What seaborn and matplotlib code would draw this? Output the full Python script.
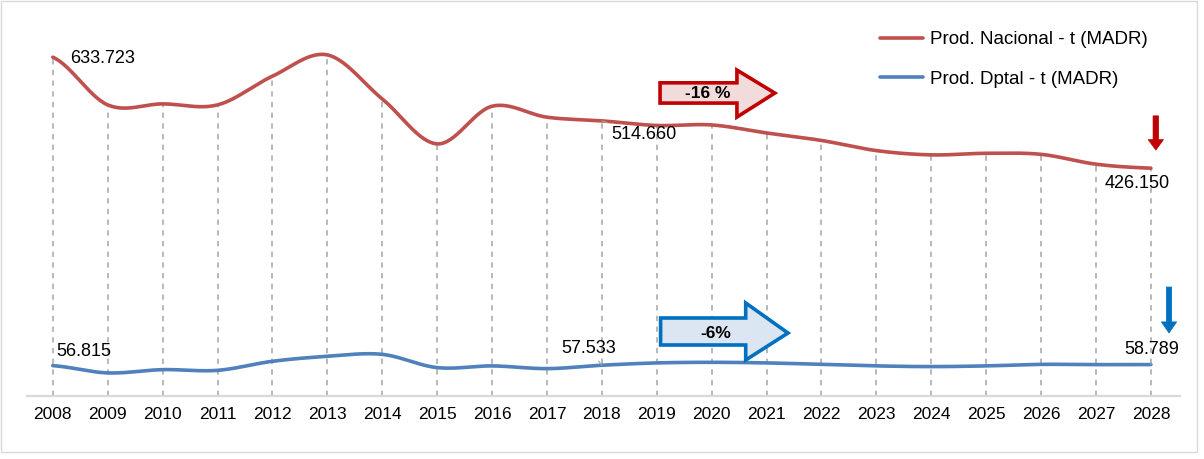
import numpy as np
import pandas as pd
import matplotlib
matplotlib.use("Agg")
import matplotlib.pyplot as plt
import seaborn as sns
from matplotlib.patches import Polygon, Rectangle

# ---------------- data ----------------
years = [str(y) for y in range(2008, 2029)]
prod_nacional = [633.723, 544.5, 546.4, 544.5, 598.2, 638.0, 555.7, 471.6, 542.0, 521.5,
                 514.660, 506.0, 507.0, 492.0, 478.0, 459.0, 451.0, 454.0, 452.0, 433.6, 426.150]
prod_dptal = [56.815, 43.2, 49.3, 48.0, 64.9, 74.2, 77.9, 53.1, 56.3, 51.2,
              57.533, 61.9, 63.0, 61.9, 59.2, 56.3, 55.0, 56.3, 59.2, 58.7, 58.789]
series_names = ["Prod. Nacional - t (MADR)", "Prod. Dptal - t (MADR)"]
label_years_idx = [0, 10, 20]
pct_texts = ["-16 %", "-6%"]

RED = "#C0504D"
BLUE = "#4F81BD"

sns.set_theme(style="white")
plt.rcParams["font.family"] = ["Liberation Sans", "DejaVu Sans"]

W, H = 1204, 459
fig = plt.figure(figsize=(W / 100, H / 100), dpi=100)
ax = fig.add_axes([27 / W, 1 - 396 / H, (1180 - 27) / W, (396 - 10) / H])

idx = np.arange(len(years))


def smooth(y, n=30):
    """Catmull-Rom (Excel-like) smoothing of the drawn line."""
    y = np.asarray(y, float)
    p = np.concatenate([[y[0]], y, [y[-1]]])
    xs, ys = [], []
    for i in range(len(y) - 1):
        p0, p1, p2, p3 = p[i], p[i + 1], p[i + 2], p[i + 3]
        t = np.linspace(0, 1, n, endpoint=False)
        v = 0.5 * ((2 * p1) + (-p0 + p2) * t + (2 * p0 - 5 * p1 + 4 * p2 - p3) * t ** 2
                   + (-p0 + 3 * p1 - 3 * p2 + p3) * t ** 3)
        xs.append(i + t)
        ys.append(v)
    xs.append([len(y) - 1])
    ys.append([y[-1]])
    return np.concatenate(xs), np.concatenate(ys)


# drop lines
ax.vlines(idx, 0, prod_nacional, colors="#A6A6A6", linestyles=(0, (3.5, 3.5)), lw=1.1, zorder=1)

frames = []
for name, vals in zip(series_names, [prod_nacional, prod_dptal]):
    sx, sy = smooth(vals)
    frames.append(pd.DataFrame({"x": sx, "y": sy, "serie": name}))
df = pd.concat(frames, ignore_index=True)
sns.lineplot(data=df, x="x", y="y", hue="serie", palette=[RED, BLUE], lw=2.6,
             sort=False, estimator=None, ax=ax, zorder=3)

ax.set_xlim(-0.47, 20.53)
ax.set_ylim(0, 722)
ax.set_xticks(idx)
ax.set_xticklabels(years, fontsize=12.5, color="#000000")
ax.tick_params(axis="x", length=0, pad=8)
ax.set_yticks([])
ax.set_xlabel("")
ax.set_ylabel("")
for s in ["top", "left", "right"]:
    ax.spines[s].set_visible(False)
ax.spines["bottom"].set_color("#D9D9D9")
ax.spines["bottom"].set_linewidth(1.6)

# data labels (offsets in pixels)
red_offsets = {0: (17, -1), 10: (9, -14), 20: (-46, -15)}
blue_offsets = {0: (4, 14), 10: (-41, 17), 20: (-27, 15)}
for vals, offs, leaders in [(prod_nacional, red_offsets, {10}), (prod_dptal, blue_offsets, {10, 20})]:
    for i in label_years_idx:
        dx, dy = offs[i]
        kw = {}
        if i in leaders:
            kw["arrowprops"] = dict(arrowstyle="-", color="#A6A6A6", lw=0.8, shrinkA=1, shrinkB=0)
        ax.annotate(f"{vals[i]:.3f}", xy=(i, vals[i]), xytext=(dx, dy), textcoords="offset pixels",
                    ha="left", va="center", fontsize=13, color="#000000", zorder=5, **kw)

# big percentage arrows
def big_arrow(x0, xb, xt, yb0, yb1, yh0, yh1, yc, fc, ec, txt, tx):
    poly = Polygon([(x0, yb0), (xb, yb0), (xb, yh0), (xt, yc), (xb, yh1), (xb, yb1), (x0, yb1)],
                   closed=True, fc=fc, ec=ec, lw=2.6, joinstyle="miter", zorder=6)
    ax.add_patch(poly)
    ax.text(tx, yc, txt, ha="center", va="center", fontsize=12.5, fontweight="bold", color="#000000", zorder=7)

big_arrow(11.06, 12.46, 13.15, 547.9, 585.8, 521.7, 609.6, 566.6, "#F2DCDB", "#C00000", pct_texts[0], 11.93)
big_arrow(11.07, 12.62, 13.39, 95.4, 145.9, 67.3, 174.0, 117.8, "#DCE6F2", "#0070C0", pct_texts[1], 12.08)

# small down arrows
ax.annotate("", xy=(20.09, 460), xytext=(20.09, 524),
            arrowprops=dict(arrowstyle="simple,head_length=0.75,head_width=1.1,tail_width=0.4",
                            mutation_scale=10, fc="#C00000", ec="#C00000", lw=0.5, shrinkA=0, shrinkB=0), zorder=6)
ax.annotate("", xy=(20.33, 117.8), xytext=(20.33, 203.8),
            arrowprops=dict(arrowstyle="simple,head_length=0.8,head_width=1.1,tail_width=0.38",
                            mutation_scale=10, fc="#0070C0", ec="#0070C0", lw=0.5, shrinkA=0, shrinkB=0), zorder=6)

# legend
leg = ax.legend(loc="upper left", bbox_to_anchor=(880 / W, 1 - 31 / H), bbox_transform=fig.transFigure,
                frameon=False, fontsize=13.5, handlelength=2.3, handletextpad=0.35, labelspacing=1.2,
                borderpad=0, borderaxespad=0, title=None)
for t in leg.get_texts():
    t.set_color("#000000")
for l in leg.get_lines():
    l.set_linewidth(2.6)

# figure border
fig.patches.append(Rectangle((0.5 / W, 1 - 452 / H), 1196 / W, 451 / H, transform=fig.transFigure,
                             fill=False, ec="#D9D9D9", lw=1))

fig.savefig("out.png", dpi=100)
